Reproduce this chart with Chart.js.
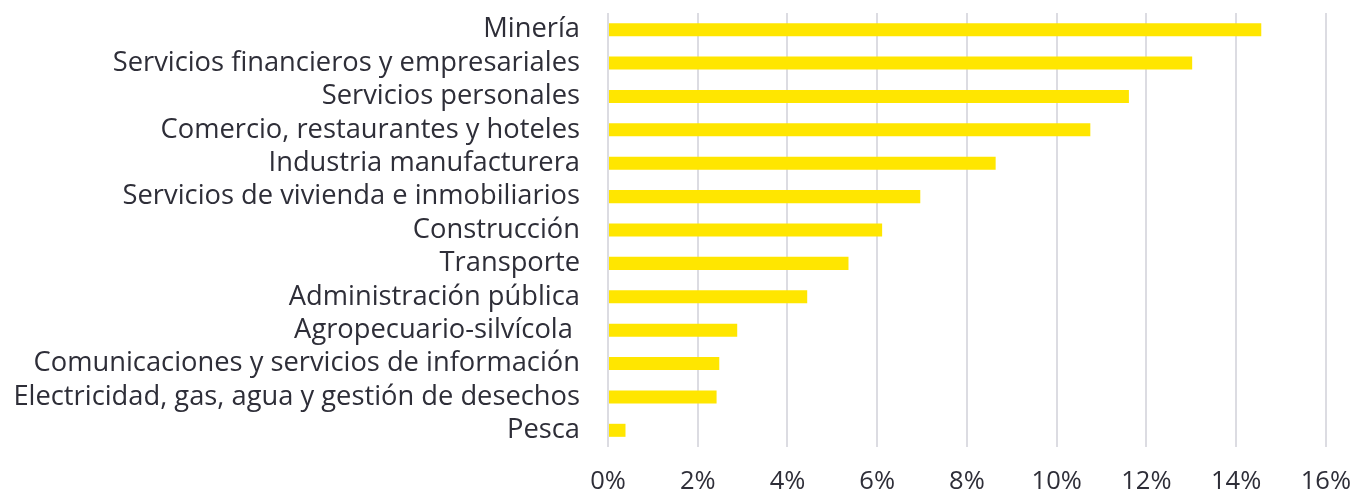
<!DOCTYPE html>
<html>
<head>
<meta charset="utf-8">
<script src="https://cdn.jsdelivr.net/npm/chart.js@4"></script>
<style>
  html, body { margin: 0; padding: 0; background: #ffffff; }
  #wrap { width: 1370px; height: 494px; }
</style>
</head>
<body>
<div id="wrap"><canvas id="c" width="1370" height="494"></canvas></div>
<script>
const categories = [
  "Minería",
  "Servicios financieros y empresariales",
  "Servicios personales",
  "Comercio, restaurantes y hoteles",
  "Industria manufacturera",
  "Servicios de vivienda e inmobiliarios",
  "Construcción",
  "Transporte",
  "Administración pública",
  "Agropecuario-silvícola ",
  "Comunicaciones y servicios de información",
  "Electricidad, gas, agua y gestión de desechos",
  "Pesca"
];
const shares = [14.56, 13.02, 11.61, 10.75, 8.64, 6.96, 6.11, 5.36, 4.44, 2.88, 2.48, 2.42, 0.39];
const xTicks = [0, 2, 4, 6, 8, 10, 12, 14, 16];

const textColor = "#2E2E38";
const fontFamily = "'Open Sans', Roboto, sans-serif";

new Chart(document.getElementById("c"), {
  type: "bar",
  data: {
    labels: categories,
    datasets: [{
      data: shares,
      backgroundColor: "#FFE600",
      borderWidth: 0,
      barPercentage: 0.39,
      categoryPercentage: 1.0
    }]
  },
  options: {
    indexAxis: "y",
    responsive: false,
    animation: false,
    devicePixelRatio: 1,
    layout: { padding: { top: 13, right: 42, left: 0, bottom: 0 } },
    plugins: { legend: { display: false }, tooltip: { enabled: false } },
    scales: {
      x: {
        min: 0,
        max: 16,
        afterBuildTicks: (s) => { s.ticks = xTicks.map(v => ({ value: v })); },
        afterFit: (s) => { s.height = 47; },
        grid: { color: "#DCDCE2", lineWidth: 2, drawTicks: false },
        border: { display: false },
        ticks: {
          padding: 19,
          color: textColor,
          font: { family: fontFamily, size: 25.5, weight: 400 },
          callback: (v) => v + "%"
        }
      },
      y: {
        afterFit: (s) => { s.width = 608; },
        grid: { display: false, drawTicks: true, tickLength: 28 },
        border: { display: false },
        ticks: {
          padding: 0,
          color: textColor,
          autoSkip: false,
          font: { family: fontFamily, size: 27.3, weight: 400, lineHeight: 0.9 }
        }
      }
    }
  }
});
</script>
</body>
</html>
